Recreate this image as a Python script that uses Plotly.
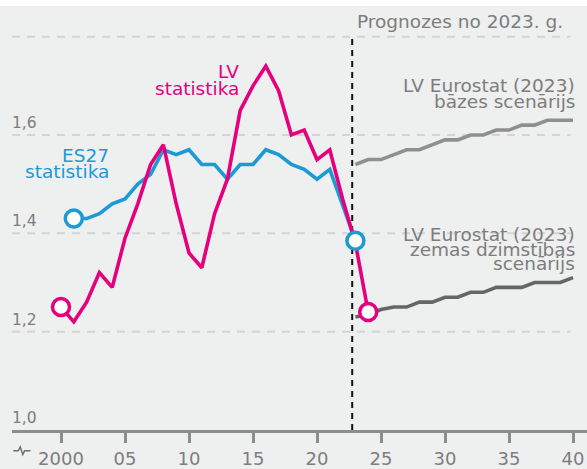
import plotly.graph_objects as go

# ---------------- data ----------------
lv_years = list(range(2000, 2025))
lv_values = [1.25, 1.22, 1.26, 1.32, 1.29, 1.39, 1.46, 1.54, 1.58, 1.46,
             1.36, 1.33, 1.44, 1.51, 1.65, 1.70, 1.74, 1.69, 1.60, 1.61,
             1.55, 1.57, 1.47, 1.38, 1.24]

eu_years = list(range(2001, 2024))
eu_values = [1.43, 1.43, 1.44, 1.46, 1.47, 1.50, 1.52, 1.57, 1.56, 1.57,
             1.54, 1.54, 1.51, 1.54, 1.54, 1.57, 1.56, 1.54, 1.53, 1.51,
             1.53, 1.46, 1.385]

proj_years = list(range(2023, 2041))
base_values = [1.54, 1.55, 1.55, 1.56, 1.57, 1.57, 1.58, 1.59, 1.59, 1.60,
               1.60, 1.61, 1.61, 1.62, 1.62, 1.63, 1.63, 1.63]
low_values = [1.23, 1.235, 1.245, 1.25, 1.25, 1.26, 1.26, 1.27, 1.27, 1.28,
              1.28, 1.29, 1.29, 1.29, 1.30, 1.30, 1.30, 1.31]

x_tick_vals = [2000, 2005, 2010, 2015, 2020, 2025, 2030, 2035, 2040]
x_tick_text = ["2000", "05", "10", "15", "20", "25", "30", "35", "40"]
y_grid_vals = [1.2, 1.4, 1.6, 1.8]
y_label_vals = [1.0, 1.2, 1.4, 1.6]
y_label_text = ["1,0", "1,2", "1,4", "1,6"]
forecast_start = 2022.75

# ---------------- styles ----------------
PINK = "#e5007d"
BLUE = "#1b9ad6"
GREY_BASE = "#8f8f8f"
GREY_LOW = "#666666"
BG = "#eeefef"
TXT = "#7d7d7d"
FONT = "DejaVu Sans"
LABEL_SIZE = 18.5

X_RANGE = [1996.172, 2041.094]
Y_RANGE = [1.0, 1.8623]
PLOT_W, PLOT_H = 575, 429
ML, MT = 12, 6

fig = go.Figure()

fig.add_trace(go.Scatter(x=eu_years, y=eu_values, mode="lines",
                         line=dict(color=BLUE, width=3.6), hoverinfo="skip"))
fig.add_trace(go.Scatter(x=lv_years, y=lv_values, mode="lines",
                         line=dict(color=PINK, width=3.6), hoverinfo="skip"))
fig.add_trace(go.Scatter(x=proj_years, y=base_values, mode="lines",
                         line=dict(color=GREY_BASE, width=3.6), hoverinfo="skip"))
fig.add_trace(go.Scatter(x=proj_years, y=low_values, mode="lines",
                         line=dict(color=GREY_LOW, width=3.6), hoverinfo="skip"))
# end markers
fig.add_trace(go.Scatter(x=[eu_years[0], eu_years[-1]], y=[eu_values[0], eu_values[-1]],
                         mode="markers",
                         marker=dict(size=17, color="white", line=dict(color=BLUE, width=3.5)),
                         hoverinfo="skip"))
fig.add_trace(go.Scatter(x=[lv_years[0], lv_years[-1]], y=[lv_values[0], lv_values[-1]],
                         mode="markers",
                         marker=dict(size=17, color="white", line=dict(color=PINK, width=3.5)),
                         hoverinfo="skip"))

shapes = []
# white strip at top
shapes.append(dict(type="rect", xref="paper", yref="paper", x0=-0.05, x1=1.05,
                   y0=1.0, y1=1.05, fillcolor="white", line=dict(width=0), layer="below"))
# gridlines
for v in y_grid_vals:
    shapes.append(dict(type="line", xref="x", yref="y", x0=X_RANGE[0], x1=2039.8,
                       y0=v, y1=v, line=dict(color="#d4d4d4", width=2, dash="8px,7px"),
                       layer="below"))
# forecast divider
shapes.append(dict(type="line", xref="x", yref="y", x0=forecast_start, x1=forecast_start,
                   y0=1.0, y1=1.8, line=dict(color="#111111", width=2, dash="6px,5px"),
                   layer="below"))


# small axis-break icon under the axis (pixel -> paper)
def px(xp, yp):
    return (xp - ML) / PLOT_W, (MT + PLOT_H - yp) / PLOT_H


icon_pts = [(13.3, 456), (18.3, 456), (20.2, 452.2), (22.8, 459.8), (24.6, 456), (30.5, 456)]
path = ""
for i, (a, b) in enumerate(icon_pts):
    u, w = px(a, b)
    path += ("M" if i == 0 else " L") + f" {u:.5f} {w:.5f}"
shapes.append(dict(type="path", xref="paper", yref="paper", path=path,
                   line=dict(color="#6f6f6f", width=1.5)))

annotations = []


def add_text(text, x, y, color, size=LABEL_SIZE, xanchor="right", xref="x"):
    annotations.append(dict(text=text, x=x, y=y, xref=xref, yref="y", xanchor=xanchor,
                            yanchor="middle", showarrow=False,
                            font=dict(family=FONT, size=size, color=color)))


add_text("Prognozes no 2023. g.", 2039.35, 1.830, TXT)
add_text("LV Eurostat (2023)", 2040.35, 1.7015, TXT)
add_text("bāzes scenārijs", 2040.35, 1.669, TXT)
add_text("LV Eurostat (2023)", 2040.35, 1.398, TXT)
add_text("zemas dzimstības", 2040.35, 1.368, TXT)
add_text("scenārijs", 2040.35, 1.338, TXT)
add_text("LV", 2014.05, 1.7296, PINK)
add_text("statistika", 2014.05, 1.6955, PINK)
add_text("ES27", 2003.9, 1.5588, BLUE)
add_text("statistika", 2003.9, 1.5266, BLUE)
for v, t in zip(y_label_vals, y_label_text):
    add_text(t, -0.003, v + 0.0241, TXT, size=15.5, xanchor="left", xref="paper")

fig.update_layout(
    width=587, height=469,
    margin=dict(l=ML, r=0, t=MT, b=469 - MT - PLOT_H, pad=0),
    paper_bgcolor=BG, plot_bgcolor=BG,
    showlegend=False,
    shapes=shapes, annotations=annotations,
    xaxis=dict(range=X_RANGE, showgrid=False, zeroline=False,
               showline=True, linecolor="#8c8c8c", linewidth=3,
               ticks="outside", ticklen=10, tickwidth=3, tickcolor="#8c8c8c",
               tickvals=x_tick_vals, ticktext=x_tick_text,
               tickfont=dict(family=FONT, size=18, color=TXT), fixedrange=True),
    yaxis=dict(range=Y_RANGE, showgrid=False, zeroline=False, showticklabels=False,
               showline=False, fixedrange=True),
)

fig.write_html("out.html", config={"displayModeBar": False},
               post_script="document.body.style.margin='0';document.body.style.overflow='hidden';")
